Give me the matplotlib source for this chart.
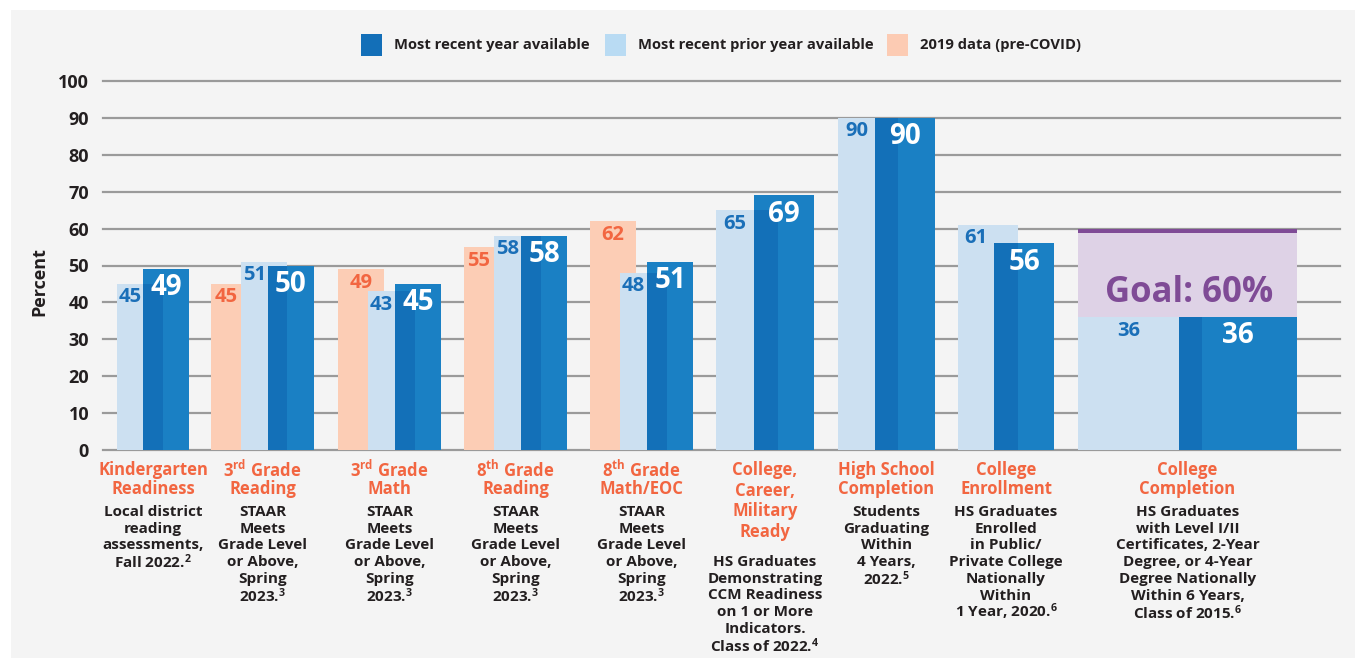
import matplotlib
matplotlib.use("Agg")
import matplotlib.pyplot as plt
from matplotlib.patches import Rectangle

# ---- data -----------------------------------------------------------------
recent = [49, 50, 45, 58, 51, 69, 90, 56, 36]
prior = [45, 51, 43, 58, 48, 65, 90, 61, 36]
pre_covid = [None, 45, 49, 55, 62, None, None, None, None]
goal = 60
goal_text = "Goal: 60%"

titles = [
    ["Kindergarten", "Readiness"],
    ["3$^{\\mathrm{rd}}$ Grade", "Reading"],
    ["3$^{\\mathrm{rd}}$ Grade", "Math"],
    ["8$^{\\mathrm{th}}$ Grade", "Reading"],
    ["8$^{\\mathrm{th}}$ Grade", "Math/EOC"],
    ["College,", "Career,", "Military", "Ready"],
    ["High School", "Completion"],
    ["College", "Enrollment"],
    ["College", "Completion"],
]
staar = ["STAAR", "Meets", "Grade Level", "or Above,", "Spring", "2023.$^{3}$"]
descs = [
    ["Local district", "reading", "assessments,", "Fall 2022.$^{2}$"],
    staar, staar, staar, staar,
    ["HS Graduates", "Demonstrating", "CCM Readiness", "on 1 or More",
     "Indicators.", "Class of 2022.$^{4}$"],
    ["Students", "Graduating", "Within", "4 Years,", "2022.$^{5}$"],
    ["HS Graduates", "Enrolled", "in Public/", "Private College",
     "Nationally", "Within", "1 Year, 2020.$^{6}$"],
    ["HS Graduates", "with Level I/II", "Certificates, 2-Year",
     "Degree, or 4-Year", "Degree Nationally", "Within 6 Years,",
     "Class of 2015.$^{6}$"],
]
legend_labels = ["Most recent year available", "Most recent prior year available",
                 "2019 data (pre-COVID)"]
yticks = list(range(0, 101, 10))

# ---- layout (pixel units, x axis is 1:1 with image pixels) ---------------
W, H = 1356, 658
peach_left = [None, 211, 338, 464, 590, None, None, None, None]
light_left = [117, 241, 368, 494, 620, 716, 838, 958, 1078]
dark_left = [143, 268, 395, 521, 647, 754, 875, 994, 1179]
peach_w = 46
light_w = [46, 46, 47, 47, 47, 62, 60, 60, 124]
dark_w = [46, 46, 46, 46, 46, 60, 60, 60, 118]

DARK = "#1a80c4"
DARKER = "#1370b8"
LIGHT = "#cce0f1"
PEACH = "#fccdb5"
ORANGE = "#f26641"
BLUE_TXT = "#1a6fb8"
INK = "#231f20"
PURPLE = "#7f4b96"
LAVENDER = "#ded2e6"
GRID = "#9a9a9a"

plt.rcParams["font.family"] = ["Open Sans", "DejaVu Sans"]
plt.rcParams["font.weight"] = "bold"
plt.rcParams["mathtext.fontset"] = "custom"
plt.rcParams["mathtext.rm"] = "Open Sans:bold"
plt.rcParams["mathtext.bf"] = "Open Sans:bold"
plt.rcParams["mathtext.it"] = "Open Sans:bold"


def fx(x):
    return x / W


def fy(y):
    return 1 - y / H


fig = plt.figure(figsize=(W / 100, H / 100), dpi=100)
fig.patch.set_facecolor("white")
fig.add_artist(Rectangle((fx(11), 0), fx(1355) - fx(11), fy(10),
                         transform=fig.transFigure, facecolor="#f4f4f4",
                         edgecolor="none", zorder=-1))

ax = fig.add_axes([fx(103), fy(450), (1340 - 103) / W, (450 - 81) / H])
ax.set_facecolor("none")
ax.set_xlim(103, 1340)
ax.set_ylim(0, 100)
for s in ax.spines.values():
    s.set_visible(False)
ax.set_xticks([])
ax.set_yticks(yticks)
ax.set_yticklabels([str(t) for t in yticks], fontsize=13, fontweight="bold", color=INK)
ax.tick_params(axis="y", length=0, pad=10)
for t in yticks:
    ax.axhline(t, color=GRID, lw=1.6, zorder=0.5, clip_on=False)

# goal box behind the last group
g = len(recent) - 1
box_w = dark_left[g] + dark_w[g] - light_left[g]
ax.bar(light_left[g], goal - 1.3, width=box_w, align="edge", color=LAVENDER, zorder=1)
ax.bar(light_left[g], 1.3, bottom=goal - 1.3, width=box_w, align="edge", color=PURPLE, zorder=1)
ax.text(light_left[g] + box_w / 2 + 2, 40, goal_text, ha="center", va="baseline",
        fontsize=25, fontweight="bold", color=PURPLE, zorder=5)

for i in range(len(recent)):
    if pre_covid[i] is not None:
        ax.bar(peach_left[i], pre_covid[i], width=peach_w, align="edge", color=PEACH, zorder=2)
    ax.bar(light_left[i], prior[i], width=light_w[i], align="edge", color=LIGHT, zorder=3)
    ax.bar(dark_left[i], recent[i], width=dark_w[i], align="edge", color=DARK, zorder=4)
    ov = light_left[i] + light_w[i] - dark_left[i]
    ax.bar(dark_left[i], min(prior[i], recent[i]), width=ov, align="edge",
           color=DARKER, zorder=4.5)

    # value labels
    ax.annotate(str(recent[i]), (dark_left[i] + dark_w[i] / 2, recent[i]),
                xytext=(0, -3), textcoords="offset points", ha="center", va="top",
                fontsize=20, fontweight="bold", color="white", zorder=6)
    ax.annotate(str(prior[i]), ((light_left[i] + dark_left[i]) / 2, prior[i]),
                xytext=(0, -2.5), textcoords="offset points", ha="center", va="top",
                fontsize=14.5, fontweight="bold", color=BLUE_TXT, zorder=6)
    if pre_covid[i] is not None:
        if pre_covid[i] > prior[i]:
            px = peach_left[i] + peach_w / 2
        else:
            px = (peach_left[i] + light_left[i]) / 2
        ax.annotate(str(pre_covid[i]), (px, pre_covid[i]),
                    xytext=(0, -2.5), textcoords="offset points", ha="center", va="top",
                    fontsize=14.5, fontweight="bold", color=ORANGE, zorder=6)

    # category labels under the axis
    left = peach_left[i] if peach_left[i] is not None else light_left[i]
    cx = (left + dark_left[i] + dark_w[i]) / 2
    step = 20.7 if len(titles[i]) > 2 else 19.5
    for k, line in enumerate(titles[i]):
        fig.text(fx(cx), fy(470 + k * step), line, ha="center", va="center",
                 fontsize=12, fontweight="bold", color=ORANGE)
    y0 = 562 if len(titles[i]) > 2 else 512
    for k, line in enumerate(descs[i]):
        fig.text(fx(cx), fy(y0 + k * 16.7), line, ha="center", va="center",
                 fontsize=11, fontweight="bold", color=INK)

fig.text(fx(39), fy(282), "Percent", rotation=90, ha="center", va="center",
         fontsize=13, fontweight="bold", color=INK)

# legend
leg_colors = ["#136fb8", "#b9dbf3", "#fccbb3"]
leg_x = [361, 605, 887]
for c, x, lab in zip(leg_colors, leg_x, legend_labels):
    fig.add_artist(Rectangle((fx(x), fy(56)), 21 / W, 22 / H, transform=fig.transFigure,
                             facecolor=c, edgecolor="none"))
    fig.text(fx(x + 33), fy(45), lab, ha="left", va="center",
             fontsize=10.6, fontweight="bold", color=INK)

fig.savefig("out.png", dpi=100, facecolor=fig.get_facecolor())
